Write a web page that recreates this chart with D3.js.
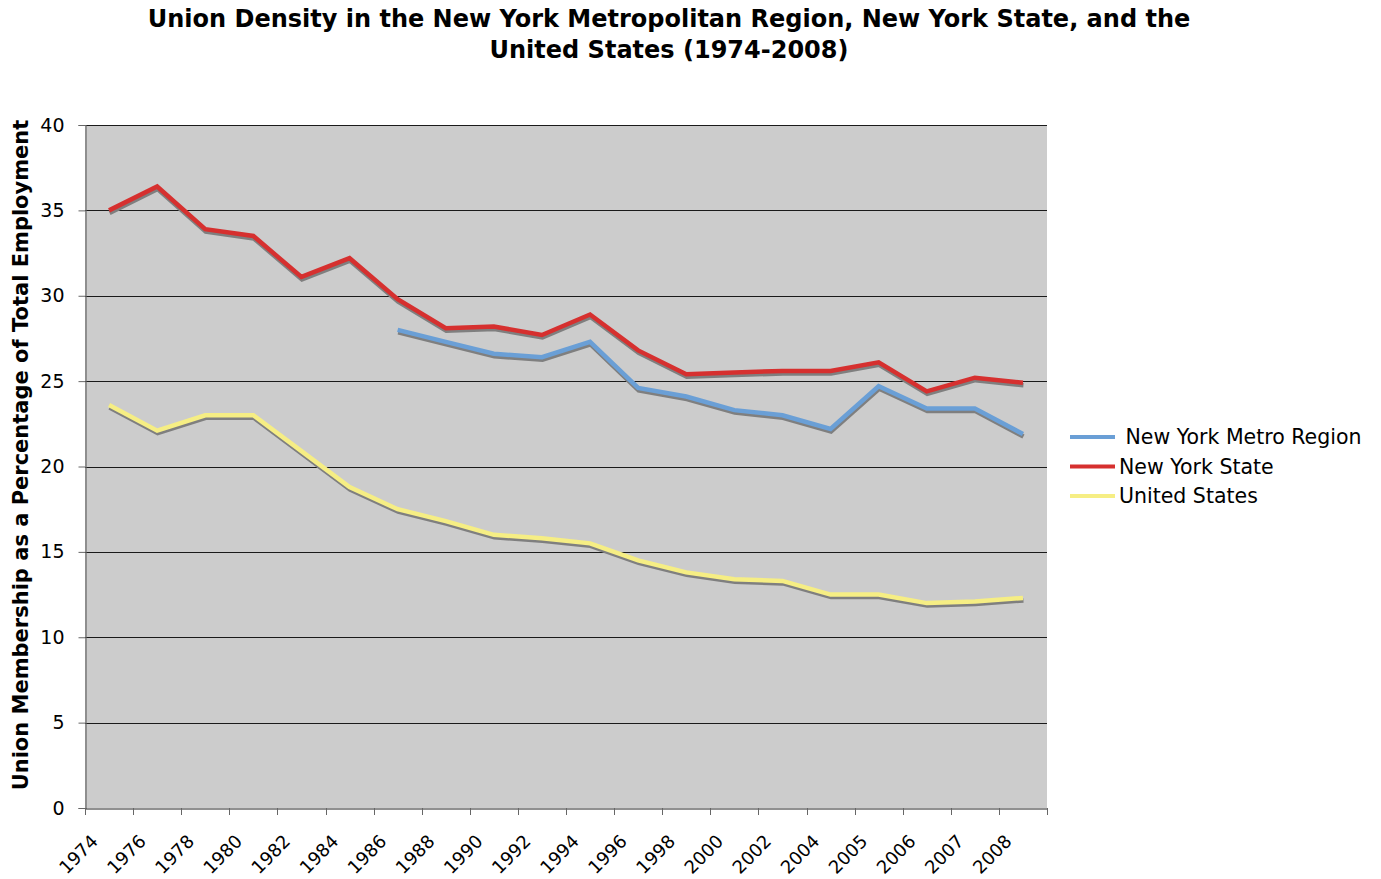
<!DOCTYPE html>
<html lang="en">
<head>
<meta charset="UTF-8">
<title>Union Density</title>
<style>
body { margin: 0; background: #fff; }
svg text { font-family: "DejaVu Sans", Verdana, sans-serif; fill: #000; }
</style>
</head>
<body>
<svg id="chart" width="1381" height="879"></svg>
<script src="https://cdn.jsdelivr.net/npm/d3@7"></script>
<script>

// data
const years = ["1974","1976","1978","1980","1982","1984","1986","1988","1990","1992",
	"1994","1996","1998","2000","2002","2004","2005","2006","2007","2008"];

const metro = [null,null,null,null,null,null,28.0,27.3,26.6,26.4,
	27.3,24.6,24.1,23.3,23.0,22.2,24.7,23.4,23.4,21.9];

const state = [35.0,36.4,33.9,33.5,31.1,32.2,29.8,28.1,28.2,27.7,
	28.9,26.8,25.4,25.5,25.6,25.6,26.1,24.4,25.2,24.9];

const us = [23.6,22.1,23.0,23.0,20.9,18.8,17.5,16.8,16.0,15.8,
	15.5,14.5,13.8,13.4,13.3,12.5,12.5,12.0,12.1,12.3];

const yTicks = [0,5,10,15,20,25,30,35,40];

const seriesNames = [" New York Metro Region", "New York State", "United States"];
const seriesColors = ["#6a9fd6", "#d6302f", "#f6ee84"];
const seriesValues = [metro, state, us];

const svg = d3.select("#chart");
const plotL = 85, plotR = 1047, plotT = 125, plotB = 808;

const x = d3.scaleBand().domain(years).range([plotL, plotR]);
const y = d3.scaleLinear().domain([0, 40]).range([plotB, plotT]);

// plot background
svg.append("rect")
	.attr("x", plotL).attr("y", plotT)
	.attr("width", plotR - plotL).attr("height", plotB - plotT)
	.attr("fill", "#cccccc");

// gridlines
svg.append("g").selectAll("line")
	.data(yTicks.filter(d => d > 0))
	.join("line")
	.attr("x1", plotL).attr("x2", plotR)
	.attr("y1", d => Math.round(y(d)) + 0.5).attr("y2", d => Math.round(y(d)) + 0.5)
	.attr("stroke", "#1a1a1a").attr("stroke-width", 1);

// y axis
const yAxis = svg.append("g")
	.attr("transform", `translate(${plotL + 0.5},0)`)
	.call(d3.axisLeft(y).tickValues(yTicks).tickSize(7).tickPadding(14));
yAxis.select(".domain").attr("stroke", "#666").attr("stroke-width", 1.2);
yAxis.selectAll(".tick line").attr("stroke", "#666");
yAxis.selectAll("text").attr("font-size", 19).attr("font-family", "DejaVu Sans");

// x axis
const xAxis = svg.append("g")
	.attr("transform", `translate(0,${plotB + 0.5})`)
	.call(d3.axisBottom(x).tickSize(0).tickPadding(0));
xAxis.select(".domain").attr("stroke", "#222").attr("stroke-width", 1.2);
xAxis.selectAll(".tick text")
	.attr("font-size", 18)
	.attr("font-family", "DejaVu Sans")
	.attr("text-anchor", "end")
	.attr("dy", 0)
	.attr("transform", "translate(-10,34) rotate(-45)");

// tick marks at category boundaries
svg.append("g").selectAll("line")
	.data(years.concat(["end"]))
	.join("line")
	.attr("x1", (d, i) => Math.round(plotL + i * x.step()) + 0.5)
	.attr("x2", (d, i) => Math.round(plotL + i * x.step()) + 0.5)
	.attr("y1", plotB).attr("y2", plotB + 7)
	.attr("stroke", "#666");

// lines with shadow
const line = d3.line()
	.defined(d => d != null)
	.x((d, i) => x(years[i]) + x.bandwidth() / 2)
	.y(d => y(d));

const shadows = svg.append("g").attr("transform", "translate(0.5,2.5)");
seriesValues.forEach(vals => {
	shadows.append("path")
		.attr("d", line(vals))
		.attr("fill", "none")
		.attr("stroke", "#7f7f7f")
		.attr("stroke-width", 4.5)
		.attr("stroke-linejoin", "miter");
});
seriesValues.forEach((vals, k) => {
	svg.append("path")
		.attr("d", line(vals))
		.attr("fill", "none")
		.attr("stroke", seriesColors[k])
		.attr("stroke-width", 4.5)
		.attr("stroke-linejoin", "miter");
});

// title
const title = svg.append("text")
	.attr("text-anchor", "middle")
	.attr("font-size", 24)
	.attr("font-weight", "bold");
title.append("tspan").attr("x", 669).attr("y", 27)
	.text("Union Density in the New York Metropolitan Region, New York State, and the");
title.append("tspan").attr("x", 669).attr("y", 58)
	.text("United States (1974-2008)");

// y axis title
svg.append("text")
	.attr("transform", "translate(28,455) rotate(-90)")
	.attr("text-anchor", "middle")
	.attr("font-size", 21)
	.attr("font-weight", "bold")
	.text("Union Membership as a Percentage of Total Employment");

// legend
const legend = svg.append("g");
seriesNames.forEach((name, k) => {
	const ly = 437 + k * 29.5;
	legend.append("line")
		.attr("x1", 1070).attr("x2", 1115)
		.attr("y1", ly).attr("y2", ly)
		.attr("stroke", seriesColors[k]).attr("stroke-width", 4);
	legend.append("text")
		.attr("x", 1119).attr("y", ly + 7)
		.attr("font-size", 20.5)
		.attr("xml:space", "preserve")
		.style("white-space", "pre")
		.text(name);
});

</script>
</body>
</html>
